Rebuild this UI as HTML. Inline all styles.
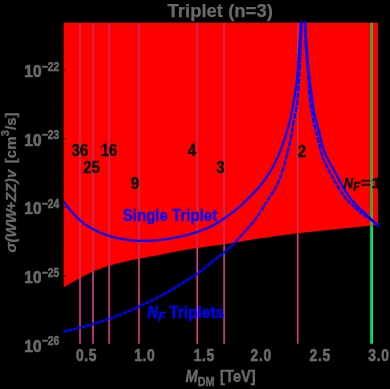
<!DOCTYPE html>
<html><head><meta charset="utf-8"><title>Triplet (n=3)</title>
<style>html,body{margin:0;padding:0;background:#000;}body{width:390px;height:389px;overflow:hidden;position:relative;font-family:"Liberation Sans",sans-serif;}</style>
</head><body>
<svg width="390" height="389" viewBox="0 0 390 389" style="position:absolute;left:0;top:0;font-family:'Liberation Sans',sans-serif;font-weight:bold"><defs><filter id="soft" x="-5%" y="-5%" width="110%" height="110%"><feGaussianBlur stdDeviation="0.4"/></filter></defs><defs><clipPath id="pc"><rect x="63.3" y="21.5" width="315.09999999999997" height="322.3"/></clipPath><clipPath id="rc"><path d="M63.30 22.70 L63.30 287.05 H64.87 V286.14 H66.45 V285.24 H68.02 V284.33 H69.59 V283.43 H71.16 V282.53 H72.74 V281.63 H74.31 V280.73 H75.88 V279.84 H77.46 V278.96 H79.03 V278.10 H80.60 V277.26 H82.18 V276.44 H83.75 V275.63 H85.32 V274.85 H86.89 V274.09 H88.47 V273.35 H90.04 V272.62 H91.61 V271.92 H93.19 V271.24 H94.76 V270.58 H96.33 V269.94 H97.91 V269.31 H99.48 V268.71 H101.05 V268.13 H102.62 V267.57 H104.20 V267.03 H105.77 V266.51 H107.34 V266.01 H108.92 V265.53 H110.49 V265.07 H112.06 V264.63 H113.64 V264.20 H115.21 V263.79 H116.78 V263.39 H118.35 V263.00 H119.93 V262.63 H121.50 V262.26 H123.07 V261.90 H124.65 V261.55 H126.22 V261.20 H127.79 V260.86 H129.37 V260.52 H130.94 V260.19 H132.51 V259.87 H134.09 V259.55 H135.66 V259.24 H137.23 V258.93 H138.80 V258.62 H140.38 V258.32 H141.95 V258.03 H143.52 V257.73 H145.10 V257.44 H146.67 V257.15 H148.24 V256.87 H149.81 V256.58 H151.39 V256.29 H152.96 V256.00 H154.53 V255.70 H156.11 V255.40 H157.68 V255.10 H159.25 V254.79 H160.83 V254.48 H162.40 V254.16 H163.97 V253.84 H165.54 V253.51 H167.12 V253.19 H168.69 V252.86 H170.26 V252.54 H171.84 V252.22 H173.41 V251.90 H174.98 V251.59 H176.56 V251.28 H178.13 V250.98 H179.70 V250.69 H181.28 V250.41 H182.85 V250.13 H184.42 V249.85 H185.99 V249.59 H187.57 V249.32 H189.14 V249.07 H190.71 V248.82 H192.29 V248.57 H193.86 V248.34 H195.43 V248.10 H197.00 V247.87 H198.58 V247.65 H200.15 V247.43 H201.72 V247.21 H203.30 V247.00 H204.87 V246.79 H206.44 V246.58 H208.02 V246.37 H209.59 V246.17 H211.16 V245.96 H212.73 V245.75 H214.31 V245.54 H215.88 V245.33 H217.45 V245.11 H219.03 V244.89 H220.60 V244.67 H222.17 V244.44 H223.75 V244.21 H225.32 V243.97 H226.89 V243.72 H228.47 V243.47 H230.04 V243.22 H231.61 V242.96 H233.18 V242.70 H234.76 V242.44 H236.33 V242.17 H237.90 V241.90 H239.48 V241.63 H241.05 V241.37 H242.62 V241.10 H244.19 V240.83 H245.77 V240.57 H247.34 V240.31 H248.91 V240.05 H250.49 V239.79 H252.06 V239.54 H253.63 V239.30 H255.21 V239.05 H256.78 V238.81 H258.35 V238.57 H259.92 V238.34 H261.50 V238.10 H263.07 V237.87 H264.64 V237.64 H266.22 V237.41 H267.79 V237.18 H269.36 V236.96 H270.94 V236.73 H272.51 V236.51 H274.08 V236.29 H275.65 V236.07 H277.23 V235.85 H278.80 V235.64 H280.37 V235.42 H281.95 V235.21 H283.52 V235.00 H285.09 V234.80 H286.67 V234.59 H288.24 V234.39 H289.81 V234.19 H291.38 V233.99 H292.96 V233.79 H294.53 V233.60 H296.10 V233.41 H297.68 V233.22 H299.25 V233.04 H300.82 V232.85 H302.40 V232.67 H303.97 V232.49 H305.54 V232.32 H307.11 V232.14 H308.69 V231.97 H310.26 V231.80 H311.83 V231.63 H313.41 V231.46 H314.98 V231.29 H316.55 V231.13 H318.13 V230.96 H319.70 V230.80 H321.27 V230.64 H322.84 V230.48 H324.42 V230.31 H325.99 V230.15 H327.56 V229.99 H329.14 V229.83 H330.71 V229.67 H332.28 V229.51 H333.86 V229.35 H335.43 V229.19 H337.00 V229.03 H338.57 V228.87 H340.15 V228.70 H341.72 V228.54 H343.29 V228.38 H344.87 V228.21 H346.44 V228.05 H348.01 V227.88 H349.59 V227.72 H351.16 V227.55 H352.73 V227.38 H354.30 V227.22 H355.88 V227.05 H357.45 V226.89 H359.02 V226.72 H360.60 V226.55 H362.17 V226.39 H363.74 V226.22 H365.32 V226.06 H366.89 V225.90 H368.46 V225.73 H370.03 V225.57 H371.61 V225.40 H373.18 V225.24 H374.75 V225.08 H376.33 V224.91 H377.90 V22.70 Z"/></clipPath></defs><rect width="390" height="389" fill="#000"/><line x1="80" y1="22.7" x2="80" y2="343.8" stroke="#d23a8a" stroke-width="1.65"/><line x1="93" y1="22.7" x2="93" y2="343.8" stroke="#d23a8a" stroke-width="1.65"/><line x1="109.1" y1="22.7" x2="109.1" y2="343.8" stroke="#d23a8a" stroke-width="1.65"/><line x1="139" y1="22.7" x2="139" y2="343.8" stroke="#d23a8a" stroke-width="1.65"/><line x1="197.2" y1="22.7" x2="197.2" y2="343.8" stroke="#d23a8a" stroke-width="1.65"/><line x1="224.1" y1="22.7" x2="224.1" y2="343.8" stroke="#d23a8a" stroke-width="1.65"/><line x1="297.7" y1="22.7" x2="297.7" y2="343.8" stroke="#d23a8a" stroke-width="1.65"/><line x1="371.6" y1="22.7" x2="371.6" y2="343.8" stroke="#00e650" stroke-width="2.8"/><path d="M63.30 22.70 L63.30 287.05 H64.87 V286.14 H66.45 V285.24 H68.02 V284.33 H69.59 V283.43 H71.16 V282.53 H72.74 V281.63 H74.31 V280.73 H75.88 V279.84 H77.46 V278.96 H79.03 V278.10 H80.60 V277.26 H82.18 V276.44 H83.75 V275.63 H85.32 V274.85 H86.89 V274.09 H88.47 V273.35 H90.04 V272.62 H91.61 V271.92 H93.19 V271.24 H94.76 V270.58 H96.33 V269.94 H97.91 V269.31 H99.48 V268.71 H101.05 V268.13 H102.62 V267.57 H104.20 V267.03 H105.77 V266.51 H107.34 V266.01 H108.92 V265.53 H110.49 V265.07 H112.06 V264.63 H113.64 V264.20 H115.21 V263.79 H116.78 V263.39 H118.35 V263.00 H119.93 V262.63 H121.50 V262.26 H123.07 V261.90 H124.65 V261.55 H126.22 V261.20 H127.79 V260.86 H129.37 V260.52 H130.94 V260.19 H132.51 V259.87 H134.09 V259.55 H135.66 V259.24 H137.23 V258.93 H138.80 V258.62 H140.38 V258.32 H141.95 V258.03 H143.52 V257.73 H145.10 V257.44 H146.67 V257.15 H148.24 V256.87 H149.81 V256.58 H151.39 V256.29 H152.96 V256.00 H154.53 V255.70 H156.11 V255.40 H157.68 V255.10 H159.25 V254.79 H160.83 V254.48 H162.40 V254.16 H163.97 V253.84 H165.54 V253.51 H167.12 V253.19 H168.69 V252.86 H170.26 V252.54 H171.84 V252.22 H173.41 V251.90 H174.98 V251.59 H176.56 V251.28 H178.13 V250.98 H179.70 V250.69 H181.28 V250.41 H182.85 V250.13 H184.42 V249.85 H185.99 V249.59 H187.57 V249.32 H189.14 V249.07 H190.71 V248.82 H192.29 V248.57 H193.86 V248.34 H195.43 V248.10 H197.00 V247.87 H198.58 V247.65 H200.15 V247.43 H201.72 V247.21 H203.30 V247.00 H204.87 V246.79 H206.44 V246.58 H208.02 V246.37 H209.59 V246.17 H211.16 V245.96 H212.73 V245.75 H214.31 V245.54 H215.88 V245.33 H217.45 V245.11 H219.03 V244.89 H220.60 V244.67 H222.17 V244.44 H223.75 V244.21 H225.32 V243.97 H226.89 V243.72 H228.47 V243.47 H230.04 V243.22 H231.61 V242.96 H233.18 V242.70 H234.76 V242.44 H236.33 V242.17 H237.90 V241.90 H239.48 V241.63 H241.05 V241.37 H242.62 V241.10 H244.19 V240.83 H245.77 V240.57 H247.34 V240.31 H248.91 V240.05 H250.49 V239.79 H252.06 V239.54 H253.63 V239.30 H255.21 V239.05 H256.78 V238.81 H258.35 V238.57 H259.92 V238.34 H261.50 V238.10 H263.07 V237.87 H264.64 V237.64 H266.22 V237.41 H267.79 V237.18 H269.36 V236.96 H270.94 V236.73 H272.51 V236.51 H274.08 V236.29 H275.65 V236.07 H277.23 V235.85 H278.80 V235.64 H280.37 V235.42 H281.95 V235.21 H283.52 V235.00 H285.09 V234.80 H286.67 V234.59 H288.24 V234.39 H289.81 V234.19 H291.38 V233.99 H292.96 V233.79 H294.53 V233.60 H296.10 V233.41 H297.68 V233.22 H299.25 V233.04 H300.82 V232.85 H302.40 V232.67 H303.97 V232.49 H305.54 V232.32 H307.11 V232.14 H308.69 V231.97 H310.26 V231.80 H311.83 V231.63 H313.41 V231.46 H314.98 V231.29 H316.55 V231.13 H318.13 V230.96 H319.70 V230.80 H321.27 V230.64 H322.84 V230.48 H324.42 V230.31 H325.99 V230.15 H327.56 V229.99 H329.14 V229.83 H330.71 V229.67 H332.28 V229.51 H333.86 V229.35 H335.43 V229.19 H337.00 V229.03 H338.57 V228.87 H340.15 V228.70 H341.72 V228.54 H343.29 V228.38 H344.87 V228.21 H346.44 V228.05 H348.01 V227.88 H349.59 V227.72 H351.16 V227.55 H352.73 V227.38 H354.30 V227.22 H355.88 V227.05 H357.45 V226.89 H359.02 V226.72 H360.60 V226.55 H362.17 V226.39 H363.74 V226.22 H365.32 V226.06 H366.89 V225.90 H368.46 V225.73 H370.03 V225.57 H371.61 V225.40 H373.18 V225.24 H374.75 V225.08 H376.33 V224.91 H377.90 V22.70 Z" fill="#ff0000"/><g clip-path="url(#rc)"><line x1="80" y1="22.7" x2="80" y2="343.8" stroke="#c62e5e" stroke-width="1.5"/><line x1="93" y1="22.7" x2="93" y2="343.8" stroke="#c62e5e" stroke-width="1.5"/><line x1="109.1" y1="22.7" x2="109.1" y2="343.8" stroke="#c62e5e" stroke-width="1.5"/><line x1="139" y1="22.7" x2="139" y2="343.8" stroke="#c62e5e" stroke-width="1.5"/><line x1="197.2" y1="22.7" x2="197.2" y2="343.8" stroke="#c62e5e" stroke-width="1.5"/><line x1="224.1" y1="22.7" x2="224.1" y2="343.8" stroke="#c62e5e" stroke-width="1.5"/><line x1="297.7" y1="22.7" x2="297.7" y2="343.8" stroke="#c62e5e" stroke-width="1.5"/><line x1="371.6" y1="22.7" x2="371.6" y2="343.8" stroke="#3cab40" stroke-width="2.8"/></g><line x1="62.8" y1="70.00" x2="65.5" y2="70.00" stroke="#000" stroke-width="0.8"/><line x1="62.8" y1="49.32" x2="64.3" y2="49.32" stroke="#000" stroke-width="0.8"/><line x1="62.8" y1="37.22" x2="64.3" y2="37.22" stroke="#000" stroke-width="0.8"/><line x1="62.8" y1="28.64" x2="64.3" y2="28.64" stroke="#000" stroke-width="0.8"/><line x1="62.8" y1="138.70" x2="65.5" y2="138.70" stroke="#000" stroke-width="0.8"/><line x1="62.8" y1="118.02" x2="64.3" y2="118.02" stroke="#000" stroke-width="0.8"/><line x1="62.8" y1="105.92" x2="64.3" y2="105.92" stroke="#000" stroke-width="0.8"/><line x1="62.8" y1="97.34" x2="64.3" y2="97.34" stroke="#000" stroke-width="0.8"/><line x1="62.8" y1="90.68" x2="64.3" y2="90.68" stroke="#000" stroke-width="0.8"/><line x1="62.8" y1="85.24" x2="64.3" y2="85.24" stroke="#000" stroke-width="0.8"/><line x1="62.8" y1="80.64" x2="64.3" y2="80.64" stroke="#000" stroke-width="0.8"/><line x1="62.8" y1="76.66" x2="64.3" y2="76.66" stroke="#000" stroke-width="0.8"/><line x1="62.8" y1="73.14" x2="64.3" y2="73.14" stroke="#000" stroke-width="0.8"/><line x1="62.8" y1="207.40" x2="65.5" y2="207.40" stroke="#000" stroke-width="0.8"/><line x1="62.8" y1="186.72" x2="64.3" y2="186.72" stroke="#000" stroke-width="0.8"/><line x1="62.8" y1="174.62" x2="64.3" y2="174.62" stroke="#000" stroke-width="0.8"/><line x1="62.8" y1="166.04" x2="64.3" y2="166.04" stroke="#000" stroke-width="0.8"/><line x1="62.8" y1="159.38" x2="64.3" y2="159.38" stroke="#000" stroke-width="0.8"/><line x1="62.8" y1="153.94" x2="64.3" y2="153.94" stroke="#000" stroke-width="0.8"/><line x1="62.8" y1="149.34" x2="64.3" y2="149.34" stroke="#000" stroke-width="0.8"/><line x1="62.8" y1="145.36" x2="64.3" y2="145.36" stroke="#000" stroke-width="0.8"/><line x1="62.8" y1="141.84" x2="64.3" y2="141.84" stroke="#000" stroke-width="0.8"/><line x1="62.8" y1="276.10" x2="65.5" y2="276.10" stroke="#000" stroke-width="0.8"/><line x1="62.8" y1="255.42" x2="64.3" y2="255.42" stroke="#000" stroke-width="0.8"/><line x1="62.8" y1="243.32" x2="64.3" y2="243.32" stroke="#000" stroke-width="0.8"/><line x1="62.8" y1="234.74" x2="64.3" y2="234.74" stroke="#000" stroke-width="0.8"/><line x1="62.8" y1="228.08" x2="64.3" y2="228.08" stroke="#000" stroke-width="0.8"/><line x1="62.8" y1="222.64" x2="64.3" y2="222.64" stroke="#000" stroke-width="0.8"/><line x1="62.8" y1="218.04" x2="64.3" y2="218.04" stroke="#000" stroke-width="0.8"/><line x1="62.8" y1="214.06" x2="64.3" y2="214.06" stroke="#000" stroke-width="0.8"/><line x1="62.8" y1="210.54" x2="64.3" y2="210.54" stroke="#000" stroke-width="0.8"/><line x1="62.8" y1="324.12" x2="64.3" y2="324.12" stroke="#000" stroke-width="0.8"/><line x1="62.8" y1="312.02" x2="64.3" y2="312.02" stroke="#000" stroke-width="0.8"/><line x1="62.8" y1="303.44" x2="64.3" y2="303.44" stroke="#000" stroke-width="0.8"/><line x1="62.8" y1="296.78" x2="64.3" y2="296.78" stroke="#000" stroke-width="0.8"/><line x1="62.8" y1="291.34" x2="64.3" y2="291.34" stroke="#000" stroke-width="0.8"/><line x1="62.8" y1="286.74" x2="64.3" y2="286.74" stroke="#000" stroke-width="0.8"/><line x1="62.8" y1="282.76" x2="64.3" y2="282.76" stroke="#000" stroke-width="0.8"/><line x1="62.8" y1="279.24" x2="64.3" y2="279.24" stroke="#000" stroke-width="0.8"/><line x1="63.0" y1="22.7" x2="63.0" y2="343.8" stroke="#000" stroke-width="0.8"/><g clip-path="url(#pc)" fill="none" stroke="#0000ff" stroke-width="2.2" stroke-linejoin="round"><path d="M63.30 201.30 L63.72 201.84 L64.14 202.38 L64.57 202.92 L64.99 203.46 L65.41 204.00 L65.84 204.54 L66.26 205.08 L66.69 205.61 L67.11 206.15 L67.54 206.69 L67.97 207.22 L68.40 207.75 L68.83 208.29 L69.27 208.82 L69.70 209.35 L70.14 209.87 L70.58 210.40 L71.02 210.92 L71.47 211.45 L71.91 211.97 L72.36 212.49 L72.81 213.00 L73.27 213.52 L73.73 214.03 L74.19 214.54 L74.65 215.04 L75.12 215.54 L75.59 216.04 L76.07 216.54 L76.55 217.03 L77.03 217.52 L77.52 218.00 L78.01 218.47 L78.51 218.95 L79.01 219.41 L79.52 219.87 L80.03 220.33 L80.55 220.78 L81.07 221.22 L81.60 221.65 L82.14 222.08 L82.68 222.51 L83.22 222.93 L83.77 223.34 L84.32 223.74 L84.88 224.15 L85.44 224.54 L86.01 224.93 L86.58 225.31 L87.15 225.69 L87.73 226.07 L88.31 226.43 L88.89 226.80 L89.48 227.15 L90.07 227.51 L90.67 227.85 L91.26 228.19 L91.86 228.53 L92.47 228.86 L93.07 229.19 L93.68 229.51 L94.29 229.83 L94.90 230.15 L95.51 230.45 L96.13 230.76 L96.75 231.06 L97.37 231.35 L97.99 231.64 L98.62 231.92 L99.24 232.20 L99.87 232.48 L100.51 232.75 L101.14 233.01 L101.77 233.27 L102.41 233.53 L103.05 233.78 L103.69 234.03 L104.33 234.27 L104.98 234.50 L105.62 234.74 L106.27 234.96 L106.92 235.19 L107.57 235.40 L108.22 235.62 L108.87 235.82 L109.53 236.03 L110.19 236.22 L110.84 236.42 L111.50 236.61 L112.16 236.79 L112.83 236.97 L113.49 237.15 L114.15 237.32 L114.82 237.48 L115.48 237.65 L116.15 237.81 L116.82 237.96 L117.49 238.11 L118.16 238.25 L118.83 238.40 L119.51 238.53 L120.18 238.67 L120.85 238.80 L121.53 238.92 L122.20 239.05 L122.88 239.16 L123.56 239.28 L124.23 239.39 L124.91 239.50 L125.59 239.60 L126.27 239.70 L126.95 239.80 L127.63 239.89 L128.31 239.98 L128.99 240.07 L129.67 240.15 L130.35 240.22 L131.03 240.30 L131.72 240.37 L132.40 240.44 L133.08 240.50 L133.77 240.56 L134.45 240.61 L135.13 240.66 L135.82 240.71 L136.50 240.75 L137.19 240.79 L137.87 240.83 L138.56 240.86 L139.24 240.88 L139.93 240.91 L140.61 240.93 L141.30 240.94 L141.98 240.95 L142.67 240.96 L143.35 240.96 L144.04 240.96 L144.73 240.95 L145.41 240.95 L146.10 240.93 L146.78 240.92 L147.47 240.90 L148.15 240.88 L148.84 240.85 L149.52 240.82 L150.21 240.79 L150.89 240.75 L151.58 240.72 L152.26 240.67 L152.95 240.63 L153.63 240.58 L154.32 240.53 L155.00 240.48 L155.68 240.42 L156.37 240.36 L157.05 240.30 L157.73 240.24 L158.41 240.17 L159.09 240.10 L159.78 240.02 L160.46 239.95 L161.14 239.87 L161.82 239.79 L162.50 239.71 L163.18 239.62 L163.86 239.53 L164.54 239.44 L165.22 239.35 L165.90 239.25 L166.58 239.16 L167.26 239.05 L167.93 238.95 L168.61 238.85 L169.29 238.74 L169.97 238.63 L170.64 238.52 L171.32 238.40 L171.99 238.28 L172.67 238.16 L173.34 238.04 L174.02 237.92 L174.69 237.79 L175.37 237.66 L176.04 237.53 L176.71 237.40 L177.38 237.27 L178.06 237.13 L178.73 236.99 L179.40 236.85 L180.07 236.70 L180.74 236.55 L181.41 236.40 L182.08 236.25 L182.74 236.09 L183.41 235.94 L184.08 235.78 L184.74 235.61 L185.41 235.45 L186.07 235.28 L186.74 235.10 L187.40 234.93 L188.06 234.75 L188.72 234.57 L189.38 234.38 L190.04 234.19 L190.70 234.00 L191.36 233.81 L192.01 233.61 L192.67 233.41 L193.32 233.20 L193.98 233.00 L194.63 232.79 L195.28 232.58 L195.93 232.36 L196.58 232.15 L197.23 231.93 L197.88 231.70 L198.53 231.48 L199.18 231.25 L199.82 231.02 L200.47 230.78 L201.11 230.55 L201.75 230.31 L202.39 230.06 L203.03 229.82 L203.67 229.57 L204.31 229.32 L204.95 229.06 L205.58 228.80 L206.21 228.53 L206.84 228.27 L207.47 227.99 L208.10 227.72 L208.73 227.44 L209.35 227.15 L209.98 226.87 L210.60 226.57 L211.21 226.27 L211.83 225.97 L212.44 225.66 L213.05 225.35 L213.66 225.03 L214.26 224.71 L214.86 224.38 L215.46 224.04 L216.05 223.70 L216.65 223.35 L217.23 223.00 L217.82 222.65 L218.40 222.29 L218.98 221.92 L219.56 221.55 L220.14 221.18 L220.71 220.81 L221.29 220.43 L221.86 220.05 L222.43 219.67 L223.00 219.28 L223.56 218.90 L224.13 218.51 L224.70 218.12 L225.26 217.73 L225.82 217.34 L226.39 216.95 L226.95 216.56 L227.51 216.16 L228.07 215.76 L228.63 215.37 L229.18 214.96 L229.74 214.56 L230.29 214.16 L230.84 213.75 L231.39 213.34 L231.94 212.93 L232.48 212.51 L233.03 212.10 L233.57 211.67 L234.11 211.25 L234.65 210.83 L235.18 210.40 L235.72 209.97 L236.25 209.53 L236.78 209.10 L237.30 208.66 L237.83 208.21 L238.35 207.77 L238.87 207.32 L239.38 206.87 L239.90 206.42 L240.41 205.96 L240.92 205.50 L241.43 205.04 L241.93 204.58 L242.43 204.11 L242.93 203.64 L243.43 203.17 L243.92 202.70 L244.42 202.22 L244.91 201.74 L245.40 201.26 L245.89 200.78 L246.37 200.30 L246.86 199.81 L247.34 199.33 L247.83 198.84 L248.31 198.35 L248.79 197.86 L249.27 197.37 L249.75 196.88 L250.22 196.39 L250.70 195.90 L251.18 195.41 L251.66 194.91 L252.13 194.42 L252.61 193.93 L253.09 193.43 L253.56 192.94 L254.04 192.44 L254.52 191.95 L254.99 191.46 L255.47 190.96 L255.94 190.47 L256.41 189.97 L256.88 189.47 L257.35 188.97 L257.82 188.46 L258.28 187.96 L258.74 187.45 L259.19 186.94 L259.64 186.42 L260.09 185.90 L260.53 185.37 L260.96 184.85 L261.39 184.31 L261.82 183.78 L262.24 183.24 L262.66 182.69 L263.07 182.15 L263.48 181.60 L263.89 181.04 L264.29 180.49 L264.69 179.93 L265.09 179.37 L265.48 178.80 L265.87 178.24 L266.25 177.67 L266.63 177.10 L267.01 176.52 L267.39 175.95 L267.76 175.37 L268.13 174.80 L268.50 174.22 L268.86 173.63 L269.23 173.05 L269.59 172.47 L269.95 171.88 L270.30 171.30 L270.65 170.71 L271.00 170.12 L271.35 169.52 L271.69 168.93 L272.03 168.33 L272.37 167.74 L272.70 167.14 L273.03 166.54 L273.36 165.94 L273.69 165.33 L274.01 164.73 L274.32 164.12 L274.64 163.51 L274.95 162.90 L275.26 162.29 L275.56 161.67 L275.86 161.06 L276.16 160.44 L276.45 159.82 L276.74 159.20 L277.03 158.57 L277.31 157.95 L277.59 157.33 L277.87 156.70 L278.15 156.07 L278.42 155.44 L278.69 154.81 L278.95 154.18 L279.22 153.54 L279.48 152.91 L279.74 152.27 L279.99 151.64 L280.24 151.00 L280.50 150.36 L280.74 149.72 L280.99 149.08 L281.23 148.44 L281.48 147.80 L281.72 147.16 L281.95 146.51 L282.19 145.87 L282.42 145.22 L282.66 144.58 L282.88 143.93 L283.11 143.29 L283.34 142.64 L283.56 141.99 L283.79 141.34 L284.01 140.69 L284.22 140.04 L284.44 139.39 L284.66 138.74 L284.87 138.09 L285.08 137.44 L285.29 136.79 L285.50 136.13 L285.71 135.48 L285.91 134.82 L286.12 134.17 L286.32 133.51 L286.52 132.86 L286.72 132.20 L286.92 131.55 L287.12 130.89 L287.31 130.23 L287.50 129.57 L287.69 128.92 L287.88 128.26 L288.07 127.60 L288.26 126.94 L288.44 126.28 L288.62 125.62 L288.80 124.95 L288.98 124.29 L289.16 123.63 L289.33 122.97 L289.50 122.30 L289.67 121.64 L289.84 120.97 L290.00 120.31 L290.16 119.64 L290.32 118.97 L290.48 118.30 L290.63 117.64 L290.78 116.97 L290.93 116.30 L291.07 115.63 L291.22 114.96 L291.36 114.29 L291.49 113.62 L291.63 112.94 L291.76 112.27 L291.90 111.60 L292.03 110.92 L292.15 110.25 L292.28 109.58 L292.40 108.90 L292.53 108.23 L292.65 107.55 L292.77 106.88 L292.89 106.20 L293.01 105.53 L293.13 104.85 L293.24 104.18 L293.36 103.50 L293.48 102.83 L293.60 102.15 L293.72 101.48 L293.83 100.80 L293.95 100.12 L294.06 99.45 L294.18 98.77 L294.29 98.10 L294.41 97.42 L294.52 96.74 L294.63 96.07 L294.74 95.39 L294.85 94.71 L294.96 94.04 L295.07 93.36 L295.18 92.68 L295.28 92.00 L295.39 91.33 L295.49 90.65 L295.59 89.97 L295.69 89.29 L295.79 88.61 L295.89 87.93 L295.99 87.26 L296.08 86.58 L296.17 85.90 L296.26 85.22 L296.35 84.54 L296.44 83.86 L296.53 83.18 L296.61 82.50 L296.69 81.82 L296.77 81.14 L296.85 80.46 L296.92 79.78 L297.00 79.09 L297.07 78.41 L297.14 77.73 L297.21 77.05 L297.27 76.37 L297.34 75.68 L297.40 75.00 L297.46 74.32 L297.52 73.64 L297.57 72.95 L297.63 72.27 L297.69 71.59 L297.74 70.90 L297.79 70.22 L297.84 69.53 L297.89 68.85 L297.94 68.17 L297.99 67.48 L298.04 66.80 L298.09 66.11 L298.14 65.43 L298.18 64.75 L298.23 64.06 L298.28 63.38 L298.32 62.69 L298.37 62.01 L298.41 61.33 L298.46 60.64 L298.50 59.96 L298.55 59.27 L298.59 58.59 L298.64 57.90 L298.69 57.22 L298.73 56.54 L298.78 55.85 L298.83 55.17 L298.87 54.48 L298.92 53.80 L298.97 53.12 L299.02 52.43 L299.06 51.75 L299.11 51.07 L299.16 50.38 L299.21 49.70 L299.26 49.01 L299.30 48.33 L299.35 47.65 L299.40 46.96 L299.45 46.28 L299.50 45.60 L299.55 44.91 L299.60 44.23 L299.65 43.54 L299.70 42.86 L299.75 42.18 L299.80 41.49 L299.85 40.81 L299.90 40.13 L299.95 39.44 L300.00 38.76 L300.05 38.07 L300.10 37.39 L300.15 36.71 L300.20 36.02 L300.25 35.34 L300.30 34.66 L300.34 33.97 L300.39 33.29 L300.44 32.60 L300.48 31.92 L300.53 31.24 L300.57 30.55 L300.62 29.87 L300.66 29.18 L300.70 28.50 L300.74 27.81 L300.78 27.13 L300.82 26.44 L300.86 25.76 L300.89 25.08 L300.93 24.39 L300.96 23.71 L300.99 23.02 L301.01 22.34 L301.04 21.65 L301.06 20.97 L301.09 20.28 L301.11 19.60 L301.13 18.91 L301.15 18.23 L301.16 17.54 L301.18 16.86 L301.19 16.17 L301.21 15.48 L301.22 14.80 L301.23 14.11 L301.25 13.43 L301.26 12.74 L301.27 12.06 L301.28 11.37 L301.29 10.69 L301.30 10.00"/><path d="M305.20 10.00 L305.21 10.80 L305.22 11.59 L305.23 12.39 L305.23 13.18 L305.24 13.98 L305.25 14.77 L305.26 15.57 L305.27 16.36 L305.29 17.16 L305.30 17.95 L305.31 18.75 L305.33 19.54 L305.34 20.34 L305.36 21.13 L305.38 21.93 L305.40 22.72 L305.42 23.52 L305.45 24.31 L305.47 25.11 L305.50 25.90 L305.53 26.70 L305.56 27.49 L305.59 28.29 L305.62 29.08 L305.65 29.88 L305.69 30.67 L305.72 31.46 L305.76 32.26 L305.80 33.05 L305.84 33.85 L305.89 34.64 L305.93 35.44 L305.97 36.23 L306.02 37.02 L306.07 37.82 L306.11 38.61 L306.16 39.41 L306.21 40.20 L306.26 40.99 L306.32 41.79 L306.37 42.58 L306.42 43.37 L306.48 44.17 L306.54 44.96 L306.59 45.75 L306.65 46.55 L306.71 47.34 L306.77 48.13 L306.83 48.93 L306.89 49.72 L306.95 50.51 L307.01 51.30 L307.07 52.10 L307.13 52.89 L307.20 53.68 L307.26 54.48 L307.32 55.27 L307.38 56.06 L307.45 56.85 L307.51 57.65 L307.58 58.44 L307.64 59.23 L307.70 60.03 L307.77 60.82 L307.83 61.61 L307.89 62.40 L307.96 63.20 L308.02 63.99 L308.09 64.78 L308.15 65.58 L308.22 66.37 L308.28 67.16 L308.35 67.95 L308.42 68.75 L308.49 69.54 L308.56 70.33 L308.64 71.12 L308.71 71.92 L308.79 72.71 L308.87 73.50 L308.95 74.29 L309.03 75.08 L309.12 75.87 L309.20 76.66 L309.29 77.45 L309.38 78.24 L309.48 79.03 L309.58 79.82 L309.68 80.61 L309.78 81.40 L309.89 82.18 L310.00 82.97 L310.11 83.76 L310.22 84.55 L310.33 85.33 L310.45 86.12 L310.56 86.91 L310.68 87.69 L310.80 88.48 L310.91 89.26 L311.03 90.05 L311.15 90.84 L311.27 91.62 L311.38 92.41 L311.50 93.20 L311.61 93.99 L311.73 94.77 L311.84 95.56 L311.95 96.35 L312.06 97.14 L312.16 97.92 L312.27 98.71 L312.37 99.50 L312.46 100.29 L312.56 101.08 L312.65 101.87 L312.74 102.66 L312.83 103.46 L312.92 104.25 L313.01 105.04 L313.10 105.83 L313.20 106.62 L313.31 107.40 L313.42 108.19 L313.53 108.98 L313.66 109.76 L313.80 110.54 L313.94 111.33 L314.09 112.10 L314.26 112.88 L314.43 113.66 L314.60 114.44 L314.78 115.21 L314.97 115.98 L315.16 116.76 L315.36 117.53 L315.56 118.30 L315.76 119.07 L315.96 119.84 L316.17 120.61 L316.37 121.38 L316.58 122.15 L316.78 122.91 L316.99 123.68 L317.19 124.45 L317.40 125.22 L317.60 125.99 L317.80 126.76 L318.01 127.53 L318.21 128.30 L318.41 129.07 L318.61 129.84 L318.80 130.61 L319.00 131.38 L319.20 132.15 L319.39 132.92 L319.58 133.69 L319.77 134.46 L319.96 135.24 L320.14 136.01 L320.33 136.78 L320.51 137.56 L320.70 138.33 L320.88 139.11 L321.07 139.88 L321.25 140.66 L321.44 141.43 L321.63 142.20 L321.83 142.97 L322.03 143.74 L322.23 144.51 L322.44 145.28 L322.66 146.04 L322.88 146.81 L323.11 147.57 L323.35 148.33 L323.59 149.08 L323.84 149.84 L324.11 150.59 L324.38 151.34 L324.66 152.08 L324.95 152.82 L325.25 153.56 L325.56 154.29 L325.87 155.02 L326.20 155.75 L326.53 156.47 L326.87 157.19 L327.22 157.91 L327.58 158.62 L327.94 159.33 L328.32 160.03 L328.70 160.73 L329.08 161.43 L329.48 162.12 L329.87 162.81 L330.27 163.50 L330.67 164.18 L331.08 164.87 L331.48 165.55 L331.88 166.24 L332.28 166.93 L332.68 167.62 L333.07 168.31 L333.46 169.00 L333.85 169.69 L334.23 170.39 L334.60 171.09 L334.98 171.79 L335.35 172.49 L335.72 173.20 L336.09 173.90 L336.45 174.61 L336.82 175.31 L337.18 176.02 L337.54 176.73 L337.90 177.44 L338.27 178.15 L338.63 178.85 L338.99 179.56 L339.36 180.27 L339.73 180.97 L340.09 181.68 L340.47 182.39 L340.84 183.09 L341.22 183.79 L341.60 184.49 L341.98 185.19 L342.37 185.89 L342.76 186.58 L343.15 187.27 L343.55 187.96 L343.96 188.65 L344.37 189.34 L344.78 190.02 L345.20 190.70 L345.62 191.37 L346.05 192.04 L346.48 192.71 L346.92 193.38 L347.37 194.04 L347.82 194.69 L348.27 195.35 L348.73 195.99 L349.20 196.64 L349.68 197.27 L350.16 197.91 L350.65 198.53 L351.14 199.16 L351.64 199.77 L352.15 200.39 L352.67 200.99 L353.19 201.59 L353.71 202.19 L354.25 202.78 L354.79 203.36 L355.33 203.94 L355.88 204.52 L356.43 205.09 L356.99 205.66 L357.55 206.22 L358.12 206.78 L358.69 207.34 L359.26 207.89 L359.84 208.44 L360.42 208.99 L361.00 209.53 L361.59 210.07 L362.17 210.61 L362.76 211.15 L363.35 211.68 L363.93 212.22 L364.51 212.76 L365.09 213.31 L365.66 213.86 L366.23 214.42 L366.79 214.99 L367.35 215.55 L367.90 216.13 L368.45 216.70 L369.01 217.27 L369.57 217.83 L370.13 218.40 L370.70 218.95 L371.27 219.50 L371.86 220.04 L372.45 220.57 L373.05 221.10 L373.65 221.62 L374.25 222.14 L374.85 222.66 L375.44 223.19 L376.02 223.73 L376.60 224.28 L377.18 224.82 L377.76 225.37 L378.34 225.92 L378.92 226.46 L379.50 227.00"/><path d="M63.30 331.70 L63.35 331.69 L63.73 331.60 L64.12 331.51 L64.50 331.41 L64.89 331.32 L65.27 331.23 L65.66 331.14 L66.05 331.05 L66.43 330.95 L66.82 330.86 L67.15 330.78 M67.97 330.59 L68.02 330.58 L68.41 330.48 L68.79 330.39 L69.18 330.30 L69.56 330.21 L69.95 330.11 L70.33 330.02 L70.72 329.93 L71.10 329.83 L71.49 329.74 L71.82 329.66 M72.59 329.47 L72.64 329.46 L73.02 329.36 L73.41 329.27 L73.79 329.17 L74.18 329.08 L74.56 328.98 L74.95 328.89 L75.33 328.79 L75.71 328.70 L76.10 328.60 L76.43 328.51 M77.25 328.31 L77.30 328.30 L77.68 328.20 L78.07 328.10 L78.45 328.00 L78.83 327.90 L79.22 327.80 L79.60 327.70 L79.98 327.60 L80.37 327.50 L80.75 327.40 L81.08 327.31 M81.90 327.10 L81.95 327.09 L82.33 326.98 L82.71 326.88 L83.09 326.78 L83.48 326.67 L83.86 326.57 L84.24 326.47 L84.62 326.36 L85.00 326.26 L85.39 326.15 L85.72 326.06 M86.48 325.85 L86.53 325.83 L86.91 325.73 L87.29 325.62 L87.67 325.51 L88.06 325.40 L88.44 325.30 L88.82 325.19 L89.20 325.08 L89.58 324.97 L89.96 324.86 L90.34 324.75 M91.10 324.53 L91.15 324.52 L91.53 324.40 L91.91 324.29 L92.29 324.18 L92.67 324.07 L93.05 323.96 L93.43 323.84 L93.81 323.73 L94.19 323.62 L94.57 323.50 L94.95 323.39 M95.75 323.14 L95.80 323.13 L96.18 323.01 L96.56 322.90 L96.93 322.78 L97.31 322.67 L97.69 322.55 L98.07 322.43 L98.45 322.31 L98.83 322.20 L99.20 322.08 L99.54 321.97 M100.34 321.72 L100.38 321.70 L100.76 321.58 L101.14 321.46 L101.52 321.34 L101.89 321.22 L102.27 321.10 L102.65 320.98 L103.02 320.85 L103.40 320.73 L103.78 320.60 L104.15 320.48 M104.95 320.21 L105.00 320.20 L105.37 320.07 L105.75 319.95 L106.12 319.82 L106.50 319.69 L106.87 319.57 L107.25 319.44 L107.62 319.31 L108.00 319.18 L108.37 319.05 L108.75 318.92 M109.54 318.64 L109.59 318.62 L109.96 318.49 L110.33 318.36 L110.71 318.23 L111.08 318.09 L111.45 317.96 L111.82 317.82 L112.20 317.69 L112.57 317.55 L112.94 317.42 L113.31 317.28 M114.10 316.99 L114.15 316.97 L114.52 316.84 L114.89 316.70 L115.26 316.56 L115.63 316.42 L116.00 316.28 L116.37 316.14 L116.74 316.00 L117.11 315.85 L117.48 315.71 L117.85 315.57 M118.64 315.27 L118.68 315.25 L119.05 315.10 L119.42 314.96 L119.79 314.82 L120.16 314.67 L120.53 314.52 L120.90 314.38 L121.26 314.23 L121.63 314.08 L122.00 313.94 L122.37 313.79 L122.41 313.77 M123.19 313.45 L123.24 313.43 L123.60 313.28 L123.97 313.13 L124.34 312.98 L124.70 312.83 L125.07 312.68 L125.44 312.53 L125.80 312.38 L126.17 312.22 L126.53 312.07 L126.90 311.92 L126.94 311.90 M127.72 311.57 L127.76 311.55 L128.13 311.40 L128.49 311.24 L128.86 311.08 L129.22 310.93 L129.58 310.77 L129.95 310.61 L130.31 310.46 L130.67 310.30 L131.04 310.14 L131.40 309.98 L131.49 309.94 M132.26 309.60 L132.31 309.58 L132.67 309.42 L133.03 309.26 L133.39 309.10 L133.75 308.94 L134.11 308.77 L134.48 308.61 L134.84 308.45 L135.20 308.28 L135.56 308.12 L135.92 307.96 L135.96 307.94 M136.73 307.58 L136.77 307.56 L137.13 307.40 L137.49 307.23 L137.85 307.07 L138.21 306.90 L138.57 306.73 L138.93 306.56 L139.29 306.39 L139.65 306.23 L140.00 306.06 L140.36 305.89 L140.50 305.82 M141.26 305.46 L141.30 305.44 L141.66 305.27 L142.01 305.10 L142.37 304.93 L142.73 304.75 L143.09 304.58 L143.44 304.41 L143.80 304.24 L144.15 304.06 L144.51 303.89 L144.87 303.72 L144.96 303.67 M145.71 303.31 L145.76 303.28 L146.11 303.11 L146.47 302.94 L146.82 302.76 L147.18 302.59 L147.53 302.41 L147.89 302.24 L148.25 302.06 L148.60 301.89 L148.96 301.71 L149.31 301.54 L149.45 301.47 M150.20 301.10 L150.24 301.08 L150.60 300.90 L150.96 300.73 L151.31 300.55 L151.67 300.38 L152.02 300.20 L152.38 300.03 L152.73 299.85 L153.09 299.68 L153.44 299.50 L153.80 299.33 L153.89 299.28 M154.64 298.91 L154.68 298.89 L155.04 298.71 L155.39 298.53 L155.75 298.36 L156.10 298.18 L156.46 298.00 L156.81 297.83 L157.16 297.65 L157.52 297.47 L157.87 297.29 L158.22 297.11 L158.36 297.04 M159.10 296.66 L159.15 296.64 L159.50 296.46 L159.85 296.28 L160.21 296.09 L160.56 295.91 L160.91 295.73 L161.26 295.54 L161.61 295.36 L161.96 295.18 L162.31 294.99 L162.66 294.81 L162.79 294.74 M163.54 294.34 L163.58 294.32 L163.93 294.13 L164.28 293.94 L164.63 293.75 L164.97 293.56 L165.32 293.37 L165.67 293.18 L166.02 292.99 L166.36 292.80 L166.71 292.61 L167.06 292.41 L167.23 292.32 M167.96 291.91 L168.01 291.88 L168.35 291.69 L168.70 291.49 L169.04 291.29 L169.38 291.10 L169.73 290.90 L170.07 290.70 L170.41 290.50 L170.75 290.30 L171.10 290.10 L171.44 289.90 L171.61 289.80 M172.37 289.34 L172.41 289.32 L172.75 289.11 L173.09 288.91 L173.43 288.70 L173.77 288.50 L174.11 288.29 L174.45 288.08 L174.78 287.87 L175.12 287.66 L175.45 287.45 L175.79 287.24 L175.96 287.14 M176.71 286.66 L176.75 286.63 L177.08 286.42 L177.42 286.21 L177.75 285.99 L178.08 285.78 L178.42 285.56 L178.75 285.35 L179.08 285.13 L179.41 284.92 L179.74 284.70 L180.08 284.48 L180.28 284.35 M181.03 283.86 L181.07 283.83 L181.40 283.62 L181.73 283.40 L182.07 283.19 L182.40 282.97 L182.73 282.75 L183.06 282.54 L183.40 282.32 L183.73 282.11 L184.06 281.90 L184.40 281.68 L184.61 281.55 M185.36 281.07 L185.40 281.05 L185.74 280.84 L186.07 280.63 L186.41 280.42 L186.75 280.21 L187.08 280.00 L187.42 279.79 L187.76 279.58 L188.10 279.38 L188.43 279.17 L188.77 278.96 L188.98 278.83 M189.70 278.39 L189.74 278.36 L190.08 278.16 L190.42 277.95 L190.76 277.74 L191.09 277.53 L191.43 277.32 L191.77 277.11 L192.10 276.90 L192.44 276.69 L192.77 276.48 L193.11 276.27 L193.32 276.14 M194.07 275.66 L194.11 275.63 L194.44 275.42 L194.77 275.20 L195.11 274.99 L195.44 274.77 L195.77 274.54 L196.14 274.30 L196.50 274.05 L196.87 273.81 L197.23 273.56 L197.59 273.31 L197.64 273.28 M198.35 272.77 L198.40 272.74 L198.75 272.48 L199.11 272.22 L199.46 271.96 L199.82 271.70 L200.17 271.44 L200.52 271.17 L200.87 270.91 L201.22 270.64 L201.57 270.37 L201.83 270.17 M202.57 269.59 L202.61 269.56 L202.95 269.29 L203.30 269.01 L203.64 268.74 L203.99 268.46 L204.33 268.19 L204.67 267.91 L205.02 267.64 L205.36 267.36 L205.70 267.08 L206.00 266.84 M206.72 266.25 L206.77 266.21 L207.11 265.93 L207.45 265.65 L207.79 265.37 L208.13 265.09 L208.47 264.82 L208.81 264.54 L209.15 264.26 L209.50 263.98 L209.84 263.70 L210.14 263.46 M210.86 262.87 L210.91 262.84 L211.25 262.56 L211.59 262.28 L211.94 262.01 L212.28 261.74 L212.63 261.46 L212.98 261.19 L213.32 260.92 L213.67 260.65 L214.01 260.37 L214.32 260.14 M215.01 259.60 L215.06 259.56 L215.40 259.29 L215.75 259.02 L216.10 258.75 L216.45 258.48 L216.80 258.21 L217.14 257.94 L217.49 257.68 L217.84 257.41 L218.19 257.14 L218.49 256.90 M219.19 256.36 L219.23 256.32 L219.58 256.05 L219.92 255.78 L220.27 255.51 L220.61 255.24 L220.96 254.96 L221.30 254.69 L221.65 254.42 L221.99 254.14 L222.33 253.87 L222.67 253.59 M223.36 253.03 L223.40 253.00 L223.74 252.72 L224.08 252.44 L224.41 252.16 L224.75 251.87 L225.09 251.59 L225.42 251.30 L225.76 251.02 L226.09 250.73 L226.42 250.44 L226.75 250.15 M227.45 249.53 L227.49 249.50 L227.82 249.20 L228.15 248.91 L228.48 248.61 L228.80 248.32 L229.13 248.02 L229.45 247.72 L229.77 247.42 L230.09 247.12 L230.42 246.82 L230.74 246.52 L230.78 246.48 M231.45 245.83 L231.49 245.79 L231.81 245.49 L232.13 245.18 L232.44 244.87 L232.76 244.56 L233.07 244.26 L233.38 243.94 L233.69 243.63 L234.00 243.32 L234.31 243.01 L234.62 242.69 L234.74 242.58 M235.39 241.91 L235.43 241.87 L235.74 241.55 L236.04 241.23 L236.35 240.91 L236.65 240.60 L236.95 240.28 L237.25 239.96 L237.55 239.63 L237.86 239.31 L238.15 238.99 L238.45 238.67 L238.60 238.50 M239.23 237.81 L239.27 237.77 L239.57 237.45 L239.86 237.12 L240.16 236.80 L240.45 236.47 L240.75 236.14 L241.04 235.81 L241.33 235.49 L241.63 235.16 L241.92 234.83 L242.21 234.50 L242.39 234.29 M243.01 233.59 L243.05 233.55 L243.34 233.22 L243.63 232.89 L243.93 232.57 L244.22 232.24 L244.51 231.91 L244.80 231.58 L245.09 231.25 L245.38 230.92 L245.68 230.59 L245.97 230.26 L246.15 230.05 M246.77 229.36 L246.81 229.32 L247.10 228.99 L247.40 228.66 L247.69 228.33 L247.98 228.00 L248.28 227.67 L248.57 227.35 L248.86 227.02 L249.16 226.69 L249.45 226.36 L249.74 226.03 L249.92 225.82 M250.57 225.08 L250.61 225.04 L250.90 224.70 L251.19 224.37 L251.47 224.04 L251.76 223.70 L252.04 223.37 L252.33 223.03 L252.61 222.69 L252.89 222.36 L253.17 222.02 L253.45 221.68 L253.63 221.46 M254.25 220.69 L254.28 220.65 L254.57 220.29 L254.87 219.90 L255.17 219.50 L255.47 219.11 L255.77 218.72 L256.07 218.32 L256.36 217.92 L256.66 217.52 L256.95 217.12 L257.20 216.77 M257.77 215.96 L257.80 215.91 L258.08 215.50 L258.36 215.09 L258.64 214.68 L258.92 214.27 L259.19 213.85 L259.46 213.44 L259.73 213.02 L260.00 212.61 L260.26 212.19 L260.52 211.77 M261.07 210.87 L261.11 210.82 L261.36 210.39 L261.62 209.97 L261.87 209.55 L262.13 209.12 L262.38 208.70 L262.63 208.27 L262.89 207.84 L263.14 207.42 L263.39 206.99 L263.64 206.57 L263.67 206.51 M264.21 205.61 L264.24 205.56 L264.50 205.13 L264.75 204.71 L265.01 204.28 L265.27 203.86 L265.53 203.44 L265.79 203.02 L266.05 202.60 L266.32 202.18 L266.59 201.77 L266.86 201.35 L266.89 201.30 M267.47 200.42 L267.51 200.37 L267.78 199.96 L268.06 199.55 L268.34 199.14 L268.62 198.73 L268.90 198.32 L269.18 197.92 L269.47 197.51 L269.75 197.10 L270.03 196.69 L270.28 196.34 M270.84 195.52 L270.88 195.47 L271.16 195.06 L271.43 194.65 L271.71 194.24 L271.99 193.83 L272.26 193.42 L272.53 193.00 L272.80 192.59 L273.07 192.17 L273.33 191.75 L273.60 191.34 M274.14 190.44 L274.17 190.38 L274.42 189.96 L274.67 189.53 L274.91 189.10 L275.15 188.67 L275.39 188.23 L275.62 187.80 L275.85 187.36 L276.08 186.92 L276.30 186.48 L276.52 186.03 L276.60 185.87 M277.09 184.86 L277.11 184.80 L277.32 184.35 L277.53 183.90 L277.73 183.45 L277.93 183.00 L278.13 182.54 L278.32 182.09 L278.52 181.63 L278.71 181.17 L278.90 180.71 L279.08 180.25 L279.22 179.91 M279.63 178.87 L279.65 178.81 L279.83 178.35 L280.01 177.88 L280.18 177.42 L280.35 176.95 L280.53 176.49 L280.70 176.02 L280.86 175.56 L281.04 175.05 L281.23 174.52 L281.42 173.99 L281.51 173.72 M281.87 172.65 L281.90 172.58 L282.08 172.04 L282.25 171.51 L282.43 170.97 L282.60 170.43 L282.77 169.89 L282.94 169.35 L283.11 168.81 L283.28 168.27 L283.45 167.73 L283.57 167.32 M283.90 166.24 L283.92 166.17 L284.08 165.63 L284.23 165.09 L284.39 164.54 L284.55 164.00 L284.70 163.46 L284.86 162.91 L285.01 162.37 L285.16 161.82 L285.31 161.28 L285.44 160.80 M285.76 159.64 L285.77 159.57 L285.92 159.02 L286.06 158.48 L286.21 157.93 L286.35 157.38 L286.49 156.83 L286.64 156.29 L286.78 155.74 L286.91 155.19 L287.05 154.64 L287.17 154.16 M287.45 153.06 L287.46 152.99 L287.60 152.45 L287.73 151.90 L287.87 151.35 L288.00 150.80 L288.13 150.25 L288.26 149.69 L288.40 149.14 L288.53 148.59 L288.66 148.04 L288.79 147.49 M289.06 146.32 L289.07 146.25 L289.20 145.70 L289.33 145.15 L289.45 144.60 L289.58 144.04 L289.70 143.49 L289.83 142.94 L289.95 142.39 L290.07 141.83 L290.19 141.28 L290.31 140.73 M290.54 139.62 L290.56 139.55 L290.67 139.00 L290.79 138.44 L290.90 137.89 L291.01 137.33 L291.12 136.78 L291.23 136.22 L291.34 135.67 L291.45 135.11 L291.55 134.56 L291.65 134.00 L291.66 133.93 M291.87 132.75 L291.89 132.68 L291.98 132.12 L292.08 131.56 L292.17 131.00 L292.26 130.45 L292.35 129.89 L292.44 129.33 L292.53 128.77 L292.62 128.21 L292.70 127.65 L292.79 127.09 L292.80 127.02 M292.99 125.83 L293.00 125.76 L293.09 125.20 L293.18 124.65 L293.26 124.09 L293.35 123.53 L293.45 122.97 L293.54 122.41 L293.63 121.85 L293.73 121.30 L293.83 120.74 L293.93 120.18 L293.94 120.11 M294.16 118.93 L294.17 118.86 L294.28 118.31 L294.39 117.75 L294.50 117.20 L294.62 116.64 L294.74 116.09 L294.85 115.54 L294.97 114.98 L295.09 114.43 L295.21 113.88 L295.33 113.32 M295.58 112.15 L295.59 112.08 L295.70 111.52 L295.81 110.97 L295.92 110.41 L296.03 109.86 L296.13 109.30 L296.22 108.74 L296.32 108.19 L296.41 107.63 L296.50 107.07 L296.58 106.51 L296.59 106.44 M296.76 105.25 L296.77 105.18 L296.85 104.62 L296.93 104.06 L297.00 103.50 L297.08 102.94 L297.15 102.37 L297.22 101.81 L297.28 101.25 L297.35 100.69 L297.42 100.13 L297.48 99.56 L297.49 99.49 M297.61 98.30 L297.62 98.23 L297.68 97.67 L297.74 97.10 L297.79 96.54 L297.85 95.98 L297.90 95.41 L297.95 94.85 L298.00 94.29 L298.05 93.72 L298.10 93.16 L298.15 92.59 L298.17 92.38 M298.26 91.18 L298.27 91.11 L298.31 90.55 L298.35 89.98 L298.40 89.42 L298.44 88.86 L298.48 88.29 L298.52 87.73 L298.56 87.16 L298.59 86.60 L298.63 86.03 L298.67 85.47 L298.68 85.33 M298.75 84.13 L298.76 84.05 L298.79 83.49 L298.83 82.92 L298.86 82.36 L298.90 81.79 L298.93 81.23 L298.96 80.66 L298.99 80.10 L299.03 79.53 L299.06 78.97 L299.09 78.40 L299.10 78.26 M299.17 77.06 L299.17 76.99 L299.20 76.43 L299.23 75.86 L299.26 75.30 L299.29 74.73 L299.32 74.17 L299.35 73.60 L299.38 73.04 L299.41 72.47 L299.44 71.91 L299.47 71.34 L299.48 71.13 M299.54 69.93 L299.55 69.86 L299.57 69.29 L299.60 68.73 L299.63 68.16 L299.66 67.60 L299.68 67.03 L299.71 66.47 L299.74 65.90 L299.76 65.34 L299.79 64.77 L299.82 64.21 L299.82 64.07 M299.88 62.86 L299.88 62.79 L299.90 62.23 L299.93 61.66 L299.95 61.10 L299.98 60.53 L300.00 59.97 L300.03 59.40 L300.05 58.84 L300.07 58.27 L300.09 57.71 L300.12 57.14 L300.13 56.93 M300.17 55.73 L300.18 55.66 L300.20 55.09 L300.22 54.53 L300.24 53.96 L300.27 53.40 L300.29 52.83 L300.31 52.27 L300.33 51.70 L300.35 51.13 L300.38 50.57 L300.40 50.00 L300.40 49.86 M300.45 48.59 L300.46 48.52 L300.48 47.95 L300.50 47.39 L300.53 46.82 L300.55 46.26 L300.57 45.69 L300.59 45.13 L300.62 44.56 L300.64 44.00 L300.67 43.43 L300.69 42.87 L300.70 42.73 M300.75 41.52 L300.75 41.45 L300.77 40.89 L300.80 40.32 L300.82 39.76 L300.85 39.19 L300.87 38.63 L300.90 38.06 L300.92 37.50 L300.95 36.93 L300.97 36.37 L301.00 35.80 L301.01 35.59 M301.06 34.39 L301.06 34.32 L301.08 33.75 L301.11 33.19 L301.13 32.62 L301.16 32.06 L301.18 31.49 L301.20 30.92 L301.22 30.36 L301.25 29.79 L301.27 29.23 L301.29 28.66 L301.30 28.52 M301.34 27.32 L301.35 27.25 L301.37 26.68 L301.39 26.12 L301.41 25.55 L301.43 24.99 L301.44 24.42 L301.46 23.86 L301.48 23.29 L301.50 22.73 L301.52 22.16 L301.53 21.60 L301.54 21.38 M301.57 20.18 L301.57 20.11 L301.59 19.55 L301.60 18.98 L301.62 18.41 L301.63 17.85 L301.65 17.28 L301.66 16.72 L301.67 16.15 L301.68 15.59 L301.70 15.02 L301.71 14.45 L301.71 14.31 M301.74 13.04 L301.74 12.97 L301.75 12.40 L301.76 11.84 L301.77 11.27 L301.79 10.71 L301.80 10.14 L301.80 10.00" stroke-width="2.4"/><path d="M379.50 227.00 L379.46 226.96 L379.15 226.67 L378.84 226.38 L378.52 226.09 L378.21 225.79 L377.89 225.50 L377.58 225.21 L377.26 224.92 L376.95 224.64 L376.63 224.35 L376.31 224.06 L376.15 223.92 M375.47 223.32 L375.43 223.28 L375.11 223.00 L374.79 222.71 L374.46 222.43 L374.14 222.15 L373.81 221.87 L373.49 221.59 L373.16 221.32 L372.82 221.05 L372.49 220.79 L372.15 220.53 L372.06 220.46 M371.32 219.94 L371.27 219.91 L370.92 219.67 L370.56 219.44 L370.20 219.21 L369.83 218.99 L369.46 218.77 L369.09 218.55 L368.72 218.33 L368.35 218.11 L367.98 217.90 L367.71 217.74 M366.97 217.30 L366.92 217.27 L366.56 217.05 L366.19 216.82 L365.83 216.59 L365.48 216.35 L365.13 216.11 L364.78 215.86 L364.43 215.61 L364.09 215.35 L363.75 215.09 L363.41 214.83 M362.70 214.26 L362.66 214.22 L362.33 213.95 L362.00 213.67 L361.68 213.39 L361.35 213.11 L361.03 212.83 L360.71 212.55 L360.38 212.26 L360.06 211.98 L359.74 211.69 L359.42 211.41 L359.34 211.34 M358.62 210.70 L358.58 210.66 L358.25 210.38 L357.93 210.09 L357.61 209.81 L357.29 209.53 L356.97 209.24 L356.65 208.96 L356.33 208.68 L356.01 208.39 L355.68 208.11 L355.36 207.83 L355.24 207.72 M354.57 207.11 L354.53 207.08 L354.21 206.79 L353.89 206.50 L353.57 206.22 L353.26 205.93 L352.94 205.64 L352.63 205.35 L352.31 205.06 L352.00 204.76 L351.69 204.47 L351.38 204.17 L351.22 204.02 M350.57 203.39 L350.53 203.35 L350.23 203.05 L349.92 202.75 L349.62 202.45 L349.32 202.14 L349.02 201.83 L348.72 201.52 L348.43 201.21 L348.13 200.90 L347.84 200.59 L347.55 200.27 L347.36 200.06 M346.72 199.34 L346.68 199.30 L346.37 198.93 L346.06 198.57 L345.75 198.20 L345.44 197.82 L345.14 197.45 L344.84 197.07 L344.54 196.69 L344.25 196.31 L343.96 195.93 L343.70 195.59 M343.10 194.77 L343.06 194.72 L342.78 194.33 L342.50 193.93 L342.22 193.54 L341.95 193.14 L341.68 192.74 L341.41 192.34 L341.14 191.94 L340.87 191.54 L340.61 191.13 L340.35 190.73 L340.31 190.68 M339.73 189.76 L339.70 189.71 L339.44 189.30 L339.19 188.89 L338.93 188.48 L338.68 188.06 L338.43 187.65 L338.18 187.23 L337.94 186.82 L337.69 186.40 L337.45 185.99 L337.20 185.57 L337.11 185.41 M336.60 184.52 L336.57 184.47 L336.33 184.05 L336.09 183.63 L335.85 183.21 L335.62 182.79 L335.38 182.37 L335.14 181.95 L334.91 181.53 L334.68 181.11 L334.44 180.69 L334.21 180.26 L334.07 180.00 M333.55 179.05 L333.52 178.99 L333.29 178.57 L333.06 178.15 L332.83 177.72 L332.60 177.30 L332.38 176.87 L332.15 176.45 L331.92 176.02 L331.70 175.60 L331.47 175.17 L331.24 174.75 L331.10 174.48 M330.60 173.52 L330.57 173.47 L330.35 173.05 L330.12 172.62 L329.90 172.19 L329.67 171.77 L329.45 171.34 L329.23 170.91 L329.00 170.49 L328.78 170.06 L328.55 169.63 L328.33 169.20 L328.16 168.88 M327.69 167.98 L327.66 167.92 L327.44 167.50 L327.21 167.07 L326.99 166.64 L326.77 166.21 L326.54 165.78 L326.32 165.35 L326.10 164.93 L325.89 164.49 L325.67 164.06 L325.46 163.63 L325.30 163.31 M324.83 162.33 L324.80 162.27 L324.60 161.84 L324.40 161.40 L324.19 160.91 L323.97 160.41 L323.76 159.90 L323.55 159.39 L323.35 158.88 L323.16 158.36 L322.97 157.85 L322.78 157.33 L322.76 157.26 M322.40 156.22 L322.38 156.15 L322.21 155.63 L322.04 155.10 L321.88 154.58 L321.72 154.05 L321.56 153.52 L321.41 152.99 L321.26 152.46 L321.11 151.93 L320.97 151.39 L320.83 150.86 L320.81 150.79 M320.51 149.66 L320.50 149.59 L320.36 149.06 L320.22 148.52 L320.09 147.99 L319.96 147.45 L319.83 146.92 L319.70 146.38 L319.57 145.85 L319.44 145.31 L319.32 144.78 L319.19 144.24 L319.17 144.17 M318.89 142.97 L318.88 142.90 L318.75 142.36 L318.63 141.83 L318.50 141.29 L318.38 140.75 L318.25 140.22 L318.13 139.68 L318.00 139.15 L317.87 138.61 L317.75 138.08 L317.62 137.54 L317.59 137.41 M317.31 136.27 L317.30 136.20 L317.17 135.67 L317.03 135.13 L316.90 134.60 L316.76 134.06 L316.63 133.53 L316.49 133.00 L316.35 132.46 L316.22 131.93 L316.08 131.40 L315.94 130.86 L315.92 130.80 M315.63 129.67 L315.61 129.60 L315.47 129.07 L315.33 128.53 L315.19 128.00 L315.05 127.47 L314.92 126.93 L314.78 126.40 L314.65 125.86 L314.51 125.33 L314.38 124.80 L314.25 124.26 L314.22 124.13 M313.95 122.99 L313.93 122.92 L313.81 122.38 L313.69 121.85 L313.57 121.31 L313.45 120.77 L313.34 120.23 L313.23 119.69 L313.12 119.16 L313.01 118.62 L312.90 118.07 L312.80 117.53 L312.76 117.33 M312.55 116.18 L312.54 116.11 L312.44 115.57 L312.35 115.03 L312.25 114.49 L312.16 113.94 L312.06 113.40 L311.97 112.86 L311.88 112.31 L311.79 111.77 L311.70 111.23 L311.61 110.68 L311.58 110.48 M311.39 109.32 L311.38 109.25 L311.29 108.71 L311.20 108.17 L311.11 107.62 L311.02 107.08 L310.94 106.53 L310.85 105.99 L310.77 105.45 L310.68 104.90 L310.60 104.36 L310.52 103.81 L310.48 103.54 M310.31 102.38 L310.30 102.31 L310.23 101.77 L310.16 101.22 L310.08 100.68 L310.02 100.13 L309.95 99.58 L309.89 99.04 L309.83 98.49 L309.77 97.94 L309.71 97.40 L309.65 96.85 L309.63 96.57 M309.51 95.34 L309.51 95.27 L309.46 94.72 L309.41 94.18 L309.37 93.63 L309.33 93.08 L309.28 92.53 L309.24 91.98 L309.20 91.43 L309.17 90.88 L309.13 90.33 L309.09 89.78 L309.07 89.51 M309.00 88.27 L308.99 88.20 L308.96 87.65 L308.93 87.10 L308.89 86.55 L308.86 86.00 L308.83 85.45 L308.80 84.90 L308.76 84.35 L308.73 83.80 L308.70 83.25 L308.67 82.70 L308.65 82.35 M308.57 81.19 L308.57 81.12 L308.54 80.57 L308.50 80.02 L308.47 79.47 L308.43 78.92 L308.39 78.37 L308.35 77.82 L308.32 77.27 L308.28 76.72 L308.24 76.17 L308.20 75.62 L308.17 75.28 M308.08 74.11 L308.08 74.04 L308.04 73.49 L307.99 72.94 L307.95 72.39 L307.91 71.85 L307.86 71.30 L307.82 70.75 L307.77 70.20 L307.73 69.65 L307.68 69.10 L307.64 68.55 L307.61 68.21 M307.51 67.04 L307.50 66.97 L307.46 66.43 L307.41 65.88 L307.36 65.33 L307.31 64.78 L307.27 64.23 L307.22 63.68 L307.17 63.13 L307.12 62.59 L307.08 62.04 L307.03 61.49 L307.00 61.15 M306.90 59.98 L306.89 59.91 L306.84 59.36 L306.80 58.81 L306.75 58.26 L306.70 57.72 L306.66 57.17 L306.61 56.62 L306.56 56.07 L306.52 55.52 L306.47 54.97 L306.43 54.42 L306.40 54.08 M306.30 52.91 L306.30 52.84 L306.25 52.30 L306.21 51.75 L306.16 51.20 L306.12 50.65 L306.08 50.10 L306.04 49.55 L305.99 49.00 L305.95 48.45 L305.91 47.90 L305.87 47.35 L305.85 47.01 M305.76 45.84 L305.76 45.77 L305.72 45.22 L305.68 44.68 L305.65 44.13 L305.61 43.58 L305.58 43.03 L305.54 42.48 L305.51 41.93 L305.48 41.38 L305.45 40.83 L305.42 40.28 L305.40 39.93 M305.33 38.77 L305.33 38.70 L305.30 38.15 L305.28 37.60 L305.25 37.05 L305.23 36.50 L305.20 35.95 L305.18 35.40 L305.16 34.85 L305.13 34.30 L305.11 33.75 L305.09 33.19 L305.08 32.85 M305.03 31.61 L305.03 31.54 L305.01 30.99 L305.00 30.44 L304.98 29.89 L304.96 29.34 L304.95 28.79 L304.93 28.24 L304.92 27.69 L304.90 27.14 L304.89 26.59 L304.87 26.04 L304.87 25.76 M304.84 24.52 L304.84 24.45 L304.83 23.90 L304.81 23.35 L304.80 22.80 L304.79 22.25 L304.78 21.70 L304.77 21.15 L304.76 20.60 L304.75 20.05 L304.74 19.50 L304.73 18.95 L304.73 18.60 M304.71 17.43 L304.71 17.37 L304.70 16.81 L304.69 16.26 L304.68 15.71 L304.67 15.16 L304.66 14.61 L304.66 14.06 L304.65 13.51 L304.64 12.96 L304.63 12.41 L304.63 11.86 L304.62 11.51 M304.60 10.28 L304.60 10.21 L304.60 10.00" stroke-width="2.4"/></g><line x1="379.5" y1="222.3" x2="379.5" y2="224.2" stroke="#a00000" stroke-width="0.8"/><line x1="379.5" y1="224.2" x2="379.5" y2="226.9" stroke="#0000b0" stroke-width="0.8"/><g filter="url(#soft)" paint-order="stroke"><text transform="translate(79.9,156.4) scale(1.0,1.07)" font-size="15" fill="#000" stroke="#000" stroke-width="0.35" text-anchor="middle" >36</text><text transform="translate(91.7,172.5) scale(1.0,1.07)" font-size="15" fill="#000" stroke="#000" stroke-width="0.35" text-anchor="middle" >25</text><text transform="translate(109,156.4) scale(1.0,1.07)" font-size="15" fill="#000" stroke="#000" stroke-width="0.35" text-anchor="middle" >16</text><text transform="translate(135,188.5) scale(1.0,1.07)" font-size="15" fill="#000" stroke="#000" stroke-width="0.35" text-anchor="middle" >9</text><text transform="translate(191.8,156.4) scale(1.0,1.07)" font-size="15" fill="#000" stroke="#000" stroke-width="0.35" text-anchor="middle" >4</text><text transform="translate(220.5,172.5) scale(1.0,1.07)" font-size="15" fill="#000" stroke="#000" stroke-width="0.35" text-anchor="middle" >3</text><text transform="translate(302,156.6) scale(1.0,1.07)" font-size="15" fill="#000" stroke="#000" stroke-width="0.35" text-anchor="middle" >2</text><text transform="translate(343.7,188.0) scale(0.86,1.03)" font-size="15" fill="#000" stroke="#000" stroke-width="0.35" text-anchor="start" ><tspan font-style="italic">N</tspan></text><text transform="translate(352.9,190.6) scale(0.98,1.0)" font-size="12" fill="#000" stroke="#000" stroke-width="0.35" text-anchor="start" ><tspan font-style="italic">F</tspan></text><text transform="translate(361.0,188.0) scale(1.1,1.03)" font-size="15" fill="#000" stroke="#000" stroke-width="0.35" text-anchor="start" >=<tspan dx="0.9">1</tspan></text><text transform="translate(122.8,221.4) scale(0.99,1.1)" font-size="15.2" fill="#0000ff" stroke="#0000ff" stroke-width="0.35" text-anchor="start" >Single Triplet</text><text transform="translate(147.3,317.7) scale(0.97,1.08)" font-size="15.2" fill="#0000ff" stroke="#0000ff" stroke-width="0.35" text-anchor="start" ><tspan font-style="italic">N</tspan><tspan font-size="12.5" font-style="italic" dy="2.6">F</tspan></text><text transform="translate(169.2,317.7) scale(1.017,1.08)" font-size="15.2" fill="#0000ff" stroke="#0000ff" stroke-width="0.35" text-anchor="start" >Triplets</text><text transform="translate(220.2,17.0) scale(1.0,1.0)" font-size="18.5" fill="#6b6b6b" stroke="#6b6b6b" stroke-width="0.25" text-anchor="middle" >Triplet (n=3)</text><text transform="translate(86.60000000000001,361.1) scale(0.92,1.05)" font-size="15" fill="#6b6b6b" stroke="#6b6b6b" stroke-width="0.6" text-anchor="middle" letter-spacing="0.75">0.5</text><text transform="translate(144.8,361.1) scale(0.92,1.05)" font-size="15" fill="#6b6b6b" stroke="#6b6b6b" stroke-width="0.6" text-anchor="middle" letter-spacing="0.75">1.0</text><text transform="translate(204.3,361.1) scale(0.92,1.05)" font-size="15" fill="#6b6b6b" stroke="#6b6b6b" stroke-width="0.6" text-anchor="middle" letter-spacing="0.75">1.5</text><text transform="translate(261.2,361.1) scale(0.92,1.05)" font-size="15" fill="#6b6b6b" stroke="#6b6b6b" stroke-width="0.6" text-anchor="middle" letter-spacing="0.75">2.0</text><text transform="translate(320.2,361.1) scale(0.92,1.05)" font-size="15" fill="#6b6b6b" stroke="#6b6b6b" stroke-width="0.6" text-anchor="middle" letter-spacing="0.75">2.5</text><text transform="translate(378.9,361.1) scale(0.92,1.05)" font-size="15" fill="#6b6b6b" stroke="#6b6b6b" stroke-width="0.6" text-anchor="middle" letter-spacing="0.75">3.0</text><text transform="translate(24.3,76.89999999999999) scale(1.03,1.12)" font-size="15" fill="#6b6b6b" stroke="#6b6b6b" stroke-width="0.6" text-anchor="start" >10</text><text transform="translate(41.8,70.6) scale(0.98,1.15)" font-size="10.5" fill="#6b6b6b" stroke="#6b6b6b" stroke-width="0.5" text-anchor="start" >−22</text><text transform="translate(24.3,145.6) scale(1.03,1.12)" font-size="15" fill="#6b6b6b" stroke="#6b6b6b" stroke-width="0.6" text-anchor="start" >10</text><text transform="translate(41.8,139.29999999999998) scale(0.98,1.15)" font-size="10.5" fill="#6b6b6b" stroke="#6b6b6b" stroke-width="0.5" text-anchor="start" >−23</text><text transform="translate(24.3,214.4) scale(1.03,1.12)" font-size="15" fill="#6b6b6b" stroke="#6b6b6b" stroke-width="0.6" text-anchor="start" >10</text><text transform="translate(41.8,208.1) scale(0.98,1.15)" font-size="10.5" fill="#6b6b6b" stroke="#6b6b6b" stroke-width="0.5" text-anchor="start" >−24</text><text transform="translate(24.3,282.90000000000003) scale(1.03,1.12)" font-size="15" fill="#6b6b6b" stroke="#6b6b6b" stroke-width="0.6" text-anchor="start" >10</text><text transform="translate(41.8,276.6) scale(0.98,1.15)" font-size="10.5" fill="#6b6b6b" stroke="#6b6b6b" stroke-width="0.5" text-anchor="start" >−25</text><text transform="translate(24.3,351.6) scale(1.03,1.12)" font-size="15" fill="#6b6b6b" stroke="#6b6b6b" stroke-width="0.6" text-anchor="start" >10</text><text transform="translate(41.8,345.3) scale(0.98,1.15)" font-size="10.5" fill="#6b6b6b" stroke="#6b6b6b" stroke-width="0.5" text-anchor="start" >−26</text><text transform="translate(185.5,382.4) scale(0.98,1.08)" font-size="15" fill="#6b6b6b" stroke="#6b6b6b" stroke-width="0.35" text-anchor="start" ><tspan font-style="italic">M</tspan><tspan font-size="11" dy="3.0">DM</tspan><tspan dy="-3.0" dx="1.6"> [TeV]</tspan></text><text transform="translate(16.1,252.5) rotate(-90)" font-size="15" fill="#6b6b6b" stroke="#6b6b6b" stroke-width="0.3" letter-spacing="0.08"><tspan font-style="italic">σ(WW<tspan dx="-1.6">+</tspan>ZZ)v</tspan><tspan dx="2.2"> [cm</tspan><tspan font-size="11" dy="-7.2">3</tspan><tspan dy="7.2">/s]</tspan></text></g></svg>
</body></html>
